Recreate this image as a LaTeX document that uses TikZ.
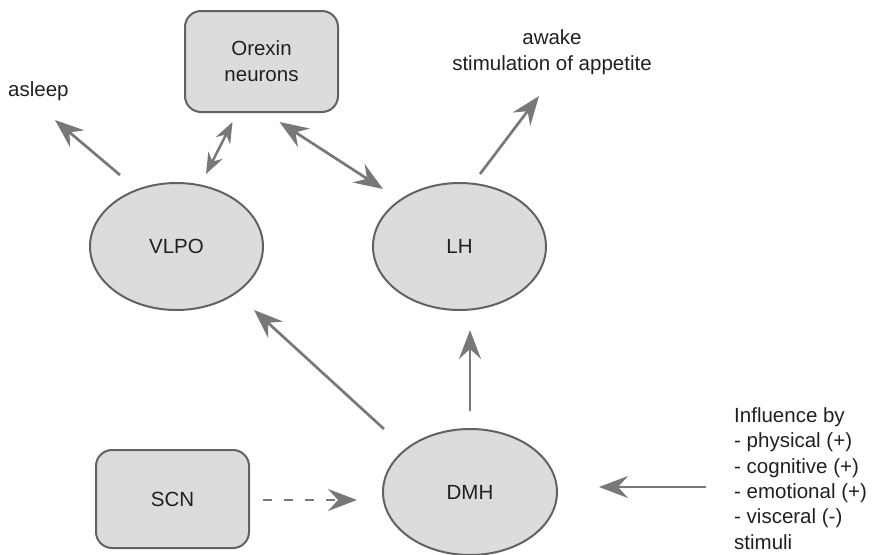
\documentclass[tikz,border=0pt]{standalone}
\usepackage{fontspec}
\setmainfont{Liberation Sans}
\usetikzlibrary{shapes.geometric,arrows.meta,calc}
\definecolor{nodefill}{HTML}{DCDCDE}
\definecolor{nodeline}{HTML}{626264}
\definecolor{arrowcol}{HTML}{78787A}
\definecolor{txt}{HTML}{231F20}
\begin{document}
\begin{tikzpicture}[x=1pt,y=-1pt,
  every node/.style={text=txt,font=\fontsize{20.5}{26}\selectfont},
  roundbox/.style={draw=nodeline,fill=nodefill,line width=2pt,rounded corners=16pt,inner sep=0pt,align=center},
  oval/.style={ellipse,draw=nodeline,fill=nodefill,line width=2pt,inner sep=0pt},
  link/.style={draw=arrowcol,line width=2.7pt,-{Stealth[length=29pt,width=22pt,inset=10pt]}},
  duallink/.style={draw=arrowcol,line width=2.7pt,{Stealth[length=29pt,width=22pt,inset=10pt]}-{Stealth[length=29pt,width=22pt,inset=10pt]}},
  smalldual/.style={draw=arrowcol,line width=2.5pt,{Stealth[length=21pt,width=16pt,inset=7pt]}-{Stealth[length=21pt,width=16pt,inset=7pt]}},
  dashlink/.style={link,dash pattern=on 9pt off 12pt},
  plain/.style={inner sep=0pt,align=left}]
\useasboundingbox (0,0) rectangle (877,554);

% nuclei
\node[roundbox,minimum width=153pt,minimum height=101pt] (orx) at (261.5,61.5) {Orexin\\neurons};
\node[oval,minimum width=173pt,minimum height=127pt] (vlpo) at (176.5,246.5) {VLPO};
\node[oval,minimum width=173pt,minimum height=127pt] (lh) at (459.5,246.5) {LH};
\node[oval,minimum width=174pt,minimum height=126pt] (dmh) at (470,492) {DMH};
\node[roundbox,minimum width=153pt,minimum height=98pt] (scn) at (172.5,499) {SCN};

% free labels
\node[plain,anchor=west] (asleep) at (8,91) {asleep};
\node[plain,align=center] (awake) at (552,52) {awake\\stimulation of appetite};
\node[plain,anchor=west,font=\fontsize{20.5}{25.3}\selectfont] (stim) at (734,478.5)
  {Influence by\\- physical (+)\\- cognitive (+)\\- emotional (+)\\- visceral (-)\\stimuli};

% free connector ends
\coordinate (asleepT) at (55,120);
\coordinate (awakeT) at (539,96);
\coordinate (stimS) at (706,487);

% connectors
\draw[smalldual] ($(orx.south)+(-29,9)$) -- ($(vlpo.north)+(29.5,-8)$);
\draw[duallink] ($(orx.south)+(18,9)$) -- ($(lh)+(-76.5,-57.5)$);
\draw[link] ($(vlpo)+(-56.5,-71.5)$) -- (asleepT);
\draw[link] ($(lh.north)+(20.5,-8)$) -- (awakeT);
\draw[link] ($(dmh)+(-86,-63)$) -- ($(vlpo)+(77.5,63.5)$);
\draw[link] ($(dmh.north)+(0,-17)$) -- ($(lh.south)+(10.5,19)$);
\draw[dashlink] ($(scn.east)+(13,1)$) -- ($(dmh.west)+(-25,8)$);
\draw[link] (stimS) -- ($(dmh.east)+(41,-5)$);
\end{tikzpicture}
\end{document}
